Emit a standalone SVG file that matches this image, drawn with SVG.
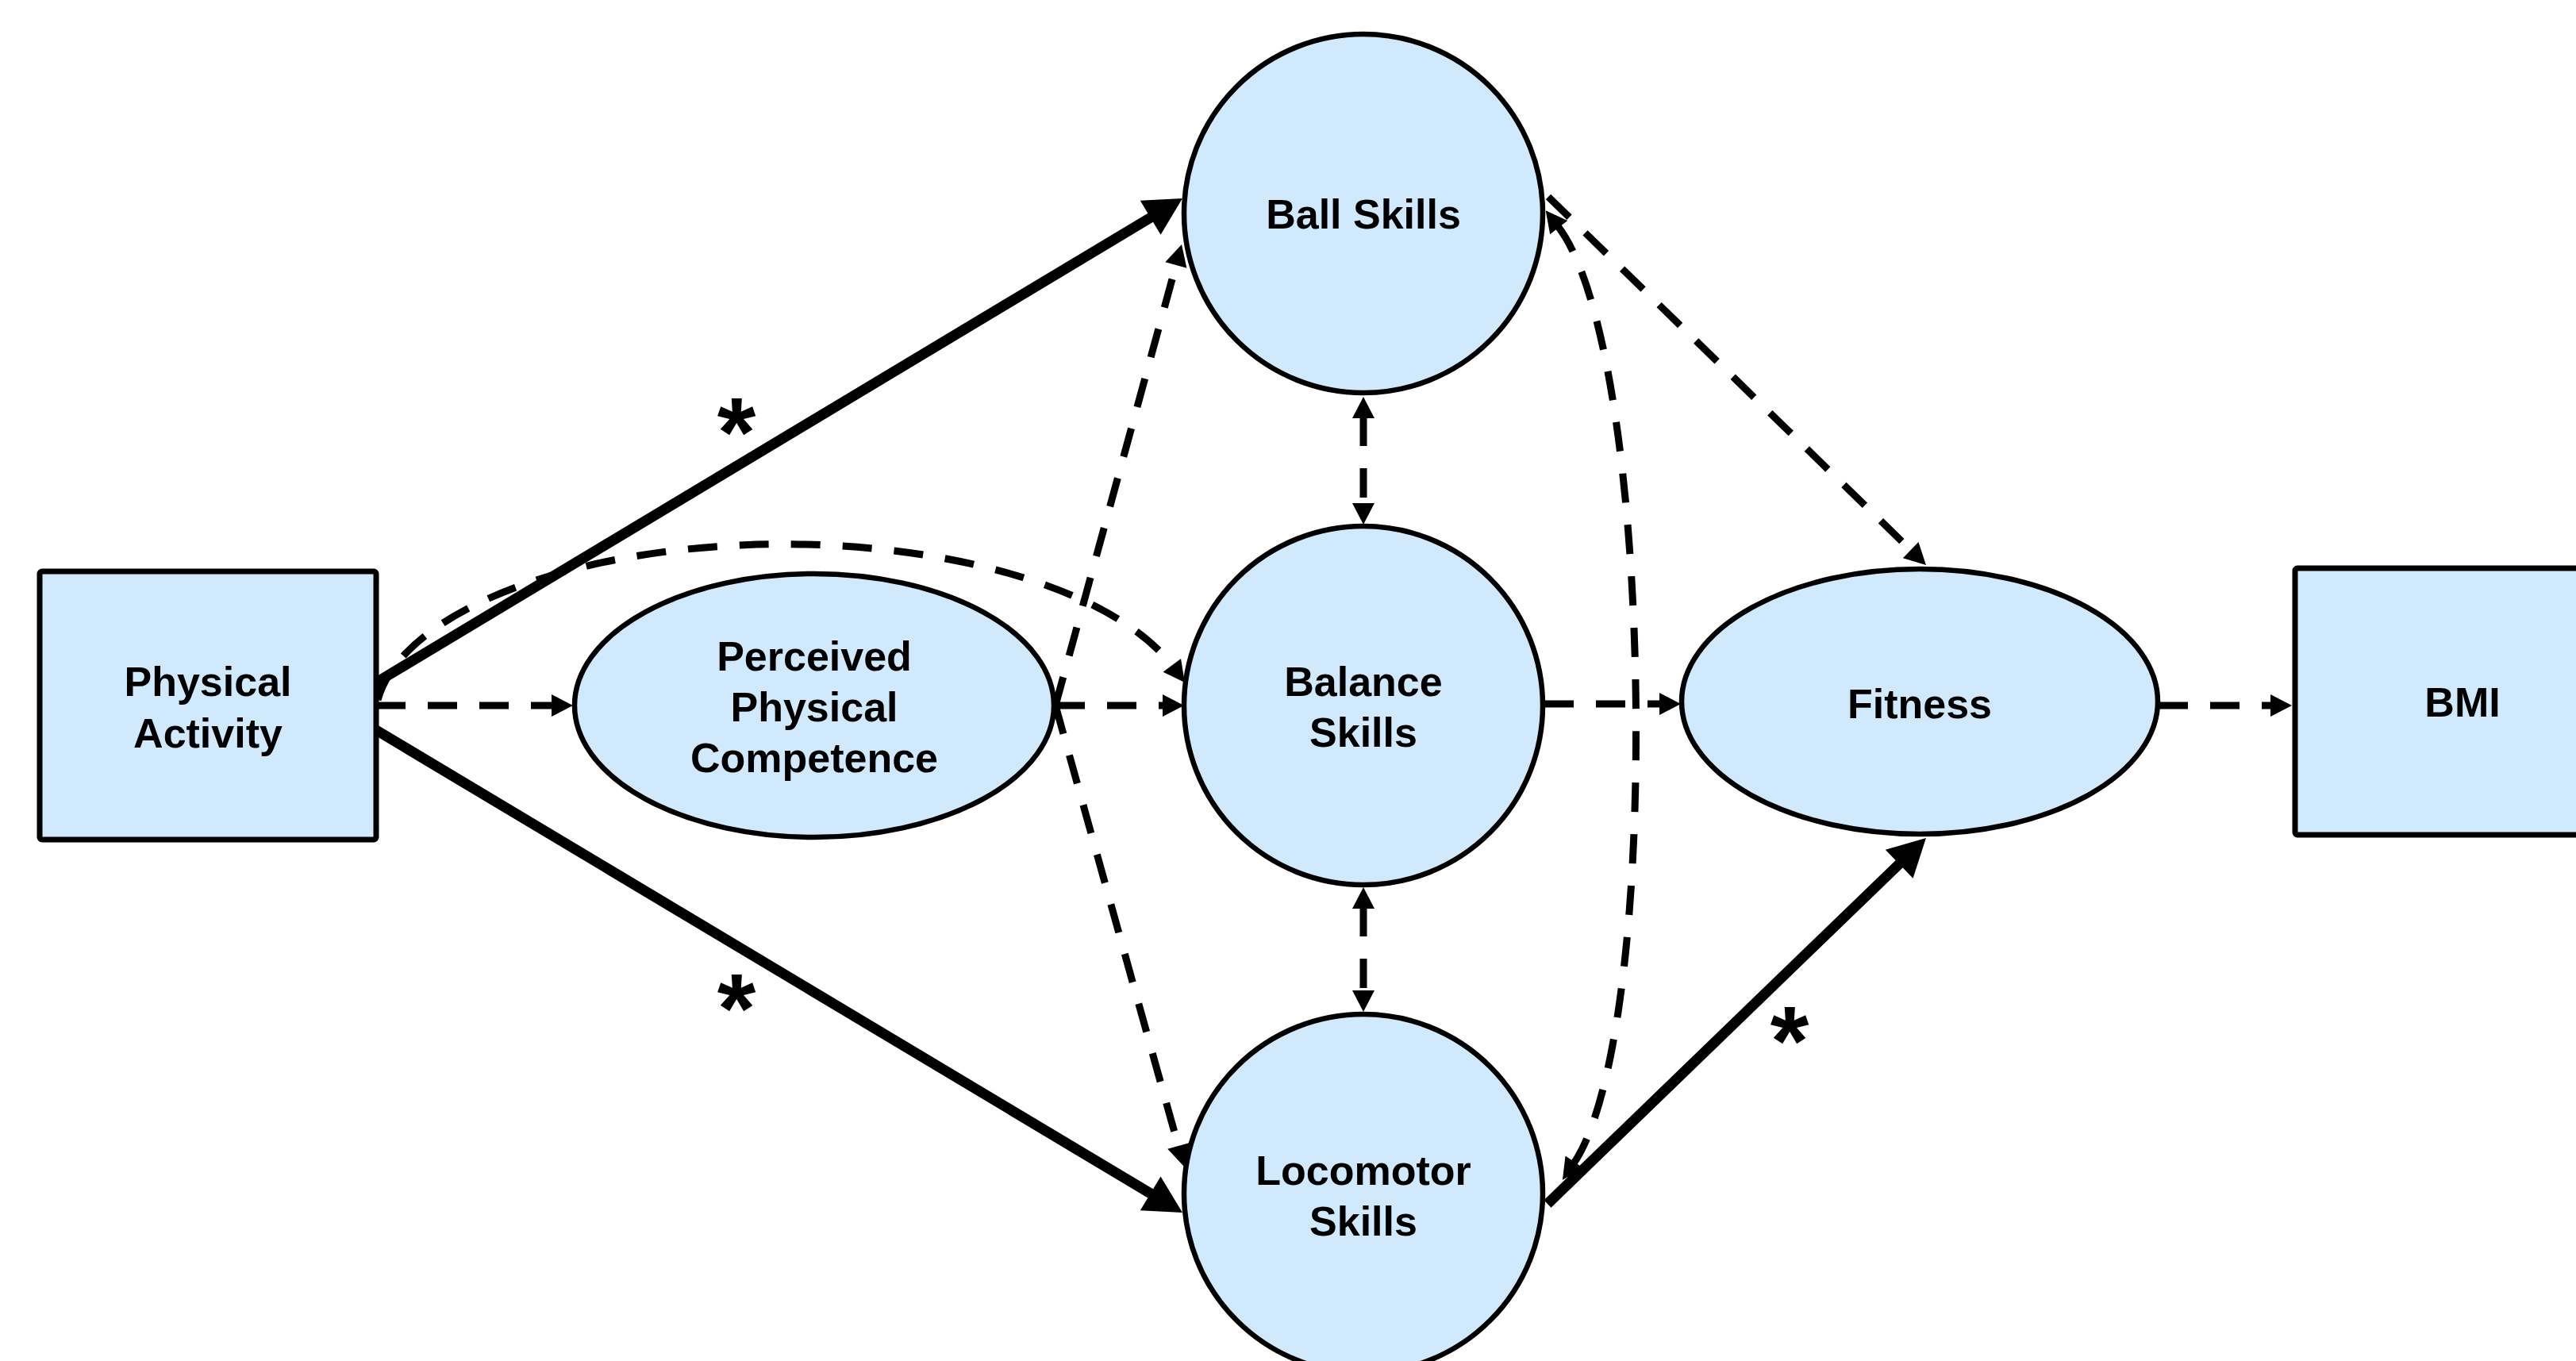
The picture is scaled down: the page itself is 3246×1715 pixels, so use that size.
<svg xmlns="http://www.w3.org/2000/svg" width="3246" height="1715" viewBox="0 0 3246 1715">
<style>
.node{fill:#D0E9FC;stroke:#000;stroke-width:6.5}
.box{fill:#D0E9FC;stroke:#000;stroke-width:7}
.lbl{font-family:"Liberation Sans",Arial,sans-serif;font-weight:bold;font-size:52px;fill:#000;text-anchor:middle}
.star{font-family:"Liberation Sans",Arial,sans-serif;font-weight:bold;font-size:125px;fill:#000;text-anchor:middle}
.solid{fill:none;stroke:#000;stroke-width:13;marker-end:url(#ahS)}
.dash{fill:none;stroke:#000;stroke-width:9;stroke-dasharray:37 28;marker-end:url(#ahD)}
.bi{marker-start:url(#ahD2)}
</style>
<defs>
<marker id="ahS" markerUnits="userSpaceOnUse" markerWidth="47" markerHeight="50" viewBox="0 0 47 50" refX="2" refY="25" orient="auto" overflow="visible"><path d="M0,0 L47,25 L0,50 z" fill="#000"/></marker>
<marker id="ahD" markerUnits="userSpaceOnUse" markerWidth="27" markerHeight="28" viewBox="0 0 27 28" refX="2" refY="14" orient="auto" overflow="visible"><path d="M0,0 L27,14 L0,28 z" fill="#000"/></marker>
<marker id="ahD2" markerUnits="userSpaceOnUse" markerWidth="27" markerHeight="28" viewBox="0 0 27 28" refX="2" refY="14" orient="auto-start-reverse" overflow="visible"><path d="M0,0 L27,14 L0,28 z" fill="#000"/></marker>
</defs>
<rect width="3246" height="1715" fill="#fff"/>
<g id="node-physical-activity">
<rect class="box" x="50" y="720" width="424" height="338" rx="3"/>
<text class="lbl" x="262" y="877">Physical</text>
<text class="lbl" x="262" y="942">Activity</text>
</g>
<g id="node-perceived">
<ellipse class="node" cx="1026" cy="889" rx="302" ry="166"/>
<text class="lbl" x="1026" y="845">Perceived</text>
<text class="lbl" x="1026" y="909">Physical</text>
<text class="lbl" x="1026" y="973">Competence</text>
</g>
<g id="node-ball">
<ellipse class="node" cx="1718" cy="269" rx="226" ry="226"/>
<text class="lbl" x="1718" y="288">Ball Skills</text>
</g>
<g id="node-balance">
<ellipse class="node" cx="1718" cy="889" rx="226" ry="226"/>
<text class="lbl" x="1718" y="877">Balance</text>
<text class="lbl" x="1718" y="941">Skills</text>
</g>
<g id="node-locomotor">
<ellipse class="node" cx="1718" cy="1504" rx="226" ry="226"/>
<text class="lbl" x="1718" y="1493">Locomotor</text>
<text class="lbl" x="1718" y="1557">Skills</text>
</g>
<g id="node-fitness">
<ellipse class="node" cx="2419" cy="884" rx="300" ry="167"/>
<text class="lbl" x="2419" y="905">Fitness</text>
</g>
<g id="node-bmi">
<rect class="box" x="2892" y="716" width="424" height="336" rx="3"/>
<text class="lbl" x="3103" y="903">BMI</text>
</g>
<g id="connectors">
<path class="dash" d="M474,889 L697,889"/>
<path class="dash" d="M1330,889 L1467,889"/>
<path class="dash" d="M1946,887 L2093,887"/>
<path class="dash" d="M2720,889 L2863,889"/>
<path class="dash bi" d="M1718,525 L1718,636"/>
<path class="dash bi" d="M1718,1143 L1718,1250"/>
<path class="dash" d="M1330,889 L1482.4,332.1"/>
<path class="dash" d="M1330,889 L1485.3,1445.9"/>
<path class="dash" d="M1951,248 L2409.1,694.5"/>
<path class="dash" d="M476,882 A515,222 0 0 1 1478,840"/>
<path class="dash bi" d="M1963,285 C2085.6,443 2095.6,1300.6 1983,1466"/>
<path class="solid" d="M474,860 L1451.4,273.2"/>
<path class="solid" d="M474,920 L1451.4,1504.9"/>
<path class="solid" d="M1950,1517 L2394.6,1087.3"/>
<text class="star" x="928" y="588">*</text>
<text class="star" x="928" y="1314">*</text>
<text class="star" x="2255" y="1355">*</text>
</g>
</svg>
